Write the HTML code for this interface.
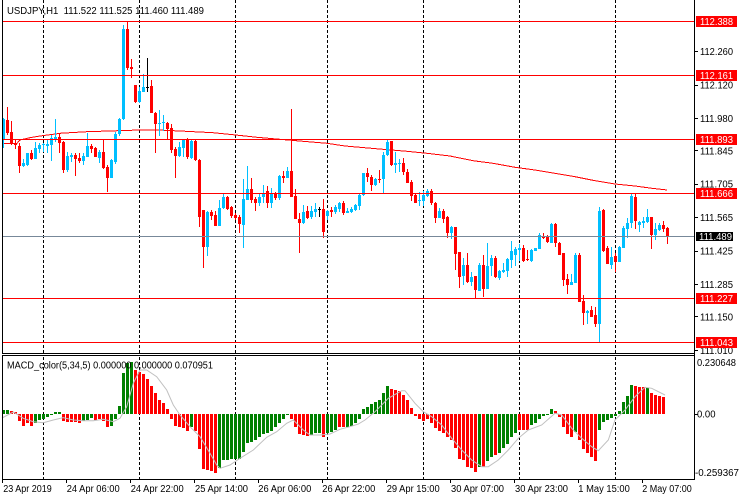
<!DOCTYPE html>
<html><head><meta charset="utf-8"><style>
html,body{margin:0;padding:0;background:#fff;width:740px;height:500px;overflow:hidden}
svg{display:block}
text{font-family:"Liberation Sans",sans-serif;font-size:10px;fill:#000}
</style></head><body>
<svg width="740" height="500" viewBox="0 0 740 500" xmlns="http://www.w3.org/2000/svg">
<rect x="0" y="0" width="740" height="500" fill="#fff"/>
<!-- grid dashed verticals -->
<g stroke="#000" stroke-width="1" stroke-dasharray="3 2" shape-rendering="crispEdges">
<path d="M43.5 0V353M139.5 0V353M235.5 0V353M327.5 0V353M423.5 0V353M519.5 0V353M615.5 0V353"/>
<path d="M43.5 357V479M139.5 357V479M235.5 357V479M327.5 357V479M423.5 357V479M519.5 357V479M615.5 357V479"/>
</g>
<!-- moving average -->
<polyline fill="none" stroke="#f00" stroke-width="1" shape-rendering="crispEdges" points="2,143.5 17,143.3 20,140 30,137.7 40,136 53,134.3 60,133.3 87,131.7 140,130 157,130 180,131 213,132.7 233,134.7 257,137.3 280,139.3 303,141.3 327,143.3 345,146 360,147.3 383,149.3 407,151.3 427,153.3 450,156 473,160.7 493,163.3 515,167.3 535,170 555,173.3 575,176.7 595,180.7 615,184 635,186 652,188.3 667,190"/>
<!-- blue wicks -->
<path fill="none" stroke="#00bfff" stroke-width="1" shape-rendering="crispEdges" d="M3.5 118V148M23.5 159V167M27.5 153V166M35.5 142V159M39.5 143V153M43.5 143V152M47.5 140V153M51.5 135V161M55.5 119V142M67.5 152V172M71.5 153V162M83.5 153V165M87.5 133V157M99.5 150V163M111.5 159V178M115.5 132V164M119.5 118V136M123.5 25V120M139.5 87V103M143.5 74V92M159.5 110V136M163.5 115V131M179.5 142V157M183.5 139V157M191.5 139V159M207.5 211V256M219.5 200V226M223.5 193V209M243.5 179V248M247.5 166V200M259.5 193V206M263.5 185V203M271.5 188V208M279.5 175V200M287.5 167V178M303.5 205V224M311.5 206V219M315.5 203V217M327.5 210V220M335.5 205V214M339.5 202V212M347.5 208V213M351.5 207V213M355.5 204V211M359.5 194V210M363.5 173V196M375.5 178V186M383.5 152V194M387.5 139V156M395.5 152V173M399.5 159V172M419.5 192V206M423.5 191V206M427.5 189V197M439.5 208V218M451.5 226V239M463.5 258V285M471.5 272V286M479.5 263V291M487.5 243V289M491.5 255V276M499.5 270V280M503.5 263V273M507.5 258V277M511.5 241V268M515.5 247V266M519.5 244V261M531.5 249V262M535.5 248V251M539.5 233V249M551.5 223V243M571.5 274V285M575.5 253V283M587.5 310V324M599.5 207V343M611.5 247V269M619.5 246V262M623.5 226V248M627.5 218V238M631.5 194V228M639.5 221V232M643.5 217V228M647.5 209V223M655.5 223V240M659.5 223V231"/>
<!-- blue bodies -->
<path fill="#00bfff" shape-rendering="crispEdges" d="M2 119h3v20h-3zM22 163h3v3h-3zM26 153h3v12h-3zM34 148h3v11h-3zM38 145h3v4h-3zM42 144h3v1h-3zM46 144h3v2h-3zM50 138h3v7h-3zM54 137h3v3h-3zM66 156h3v14h-3zM70 155h3v2h-3zM82 156h3v5h-3zM86 146h3v11h-3zM98 152h3v6h-3zM110 160h3v18h-3zM114 134h3v28h-3zM118 119h3v15h-3zM122 29h3v90h-3zM138 91h3v11h-3zM142 87h3v5h-3zM158 123h3v1h-3zM162 122h3v1h-3zM178 147h3v9h-3zM182 139h3v9h-3zM190 141h3v17h-3zM206 212h3v35h-3zM218 208h3v18h-3zM222 197h3v11h-3zM242 199h3v26h-3zM246 189h3v11h-3zM258 197h3v6h-3zM262 193h3v4h-3zM270 193h3v10h-3zM278 176h3v22h-3zM286 171h3v7h-3zM302 212h3v11h-3zM310 211h3v6h-3zM314 209h3v3h-3zM326 211h3v5h-3zM334 207h3v5h-3zM338 203h3v6h-3zM346 211h3v2h-3zM350 209h3v3h-3zM354 205h3v5h-3zM358 195h3v11h-3zM362 173h3v22h-3zM374 179h3v6h-3zM382 155h3v24h-3zM386 142h3v13h-3zM394 163h3v2h-3zM398 163h3v1h-3zM418 200h3v1h-3zM422 195h3v6h-3zM426 191h3v5h-3zM438 211h3v7h-3zM450 227h3v6h-3zM462 265h3v11h-3zM470 277h3v5h-3zM478 265h3v26h-3zM486 266h3v23h-3zM490 258h3v8h-3zM498 271h3v7h-3zM502 270h3v2h-3zM506 259h3v12h-3zM510 251h3v9h-3zM514 249h3v6h-3zM518 248h3v2h-3zM530 250h3v11h-3zM534 248h3v3h-3zM538 235h3v14h-3zM550 224h3v19h-3zM570 282h3v3h-3zM574 255h3v28h-3zM586 311h3v2h-3zM598 211h3v113h-3zM610 257h3v8h-3zM618 247h3v15h-3zM622 228h3v20h-3zM626 223h3v6h-3zM630 196h3v27h-3zM638 222h3v3h-3zM642 221h3v2h-3zM646 217h3v5h-3zM654 229h3v6h-3zM658 225h3v5h-3z"/>
<!-- red wicks -->
<path fill="none" stroke="#f00" stroke-width="1" shape-rendering="crispEdges" d="M7.5 107V135M11.5 121V145M15.5 139V149M19.5 143V173M31.5 150V160M59.5 133V153M63.5 141V173M75.5 153V176M79.5 153V163M91.5 144V153M95.5 147V157M103.5 139V169M107.5 165V192M127.5 21V70M131.5 59V78M135.5 85V103M151.5 80V113M155.5 112V153M167.5 122V139M171.5 124V153M175.5 147V178M187.5 138V159M195.5 139V161M199.5 159V227M203.5 210V268M211.5 210V220M215.5 211V226M227.5 196V210M231.5 206V218M235.5 213V220M239.5 215V233M251.5 178V203M255.5 197V211M267.5 186V208M275.5 192V200M283.5 171V183M291.5 109V197M295.5 189V219M299.5 213V253M307.5 206V219M323.5 199V238M331.5 207V217M343.5 201V215M367.5 168V182M371.5 175V191M379.5 170V183M391.5 141V166M403.5 158V175M407.5 169V183M411.5 180V201M415.5 194V203M431.5 189V205M435.5 202V223M443.5 209V223M447.5 216V238M455.5 227V270M459.5 252V288M467.5 253V283M475.5 276V298M483.5 255V297M495.5 256V278M523.5 245V262M527.5 250V261M543.5 233V239M547.5 235V243M555.5 223V247M559.5 242V255M563.5 253V286M567.5 274V294M579.5 253V302M583.5 295V325M591.5 306V317M595.5 307V327M603.5 209V252M607.5 246V264M615.5 253V272M635.5 194V229M651.5 217V249M663.5 221V232M667.5 227V244"/>
<!-- red bodies -->
<path fill="#f00" shape-rendering="crispEdges" d="M6 120h3v13h-3zM10 132h3v11h-3zM14 143h3v2h-3zM18 146h3v20h-3zM30 153h3v6h-3zM58 137h3v6h-3zM62 142h3v28h-3zM74 155h3v4h-3zM78 158h3v3h-3zM90 146h3v3h-3zM94 148h3v9h-3zM102 152h3v16h-3zM106 167h3v11h-3zM126 29h3v39h-3zM130 67h3v2h-3zM134 85h3v17h-3zM150 86h3v27h-3zM154 113h3v11h-3zM166 123h3v6h-3zM170 128h3v22h-3zM174 149h3v7h-3zM186 139h3v18h-3zM194 141h3v19h-3zM198 160h3v57h-3zM202 210h3v37h-3zM210 212h3v4h-3zM214 215h3v11h-3zM226 197h3v12h-3zM230 207h3v9h-3zM234 215h3v3h-3zM238 217h3v7h-3zM250 189h3v11h-3zM254 199h3v4h-3zM266 191h3v12h-3zM274 193h3v5h-3zM282 176h3v2h-3zM290 171h3v26h-3zM294 196h3v23h-3zM298 219h3v4h-3zM306 211h3v7h-3zM322 209h3v23h-3zM330 210h3v2h-3zM342 203h3v10h-3zM366 173h3v4h-3zM370 177h3v8h-3zM378 179h3v1h-3zM390 141h3v24h-3zM402 163h3v9h-3zM406 172h3v11h-3zM410 182h3v14h-3zM414 195h3v8h-3zM430 191h3v12h-3zM434 203h3v15h-3zM442 211h3v8h-3zM446 217h3v16h-3zM454 227h3v27h-3zM458 252h3v25h-3zM466 265h3v17h-3zM474 276h3v14h-3zM482 265h3v24h-3zM494 258h3v19h-3zM522 248h3v13h-3zM526 259h3v1h-3zM542 236h3v2h-3zM546 237h3v5h-3zM554 224h3v19h-3zM558 243h3v12h-3zM562 253h3v27h-3zM566 279h3v6h-3zM578 255h3v47h-3zM582 301h3v12h-3zM590 310h3v7h-3zM594 315h3v9h-3zM602 210h3v41h-3zM606 248h3v16h-3zM614 256h3v6h-3zM634 197h3v24h-3zM650 217h3v18h-3zM662 225h3v4h-3zM666 228h3v8h-3z"/>
<!-- doji -->
<path fill="none" stroke="#000" stroke-width="1" shape-rendering="crispEdges" d="M147.5 58V92M146 87.5h3M319.5 207V217M318 209.5h3"/>
<!-- horizontal levels -->
<path fill="none" stroke="#f00" stroke-width="1" shape-rendering="crispEdges" d="M2 21.5H695M2 75.5H695M2 139.5H695M2 193.5H695M2 298.5H695M2 342.5H695"/>
<path fill="none" stroke="#778899" stroke-width="1" shape-rendering="crispEdges" d="M2 236.5H695"/>
<!-- MACD histogram -->
<path fill="#008000" shape-rendering="crispEdges" d="M2 410h3v4h-3zM6 410h3v4h-3zM54 412h3v2h-3zM58 412h3v2h-3zM118 406h3v8h-3zM122 373h3v41h-3zM126 363h3v51h-3zM130 362h3v52h-3zM362 409h3v5h-3zM366 407h3v7h-3zM370 404h3v10h-3zM374 402h3v12h-3zM378 400h3v14h-3zM382 393h3v21h-3zM386 386h3v28h-3zM550 409h3v5h-3zM618 411h3v3h-3zM622 402h3v12h-3zM626 396h3v18h-3zM630 385h3v29h-3zM646 388h3v26h-3z
M34 414h3v9h-3zM38 414h3v6h-3zM42 414h3v5h-3zM46 414h3v3h-3zM50 414h3v1h-3zM82 414h3v7h-3zM86 414h3v6h-3zM90 414h3v4h-3zM110 414h3v12h-3zM114 414h3v5h-3zM190 414h3v13h-3zM218 414h3v54h-3zM222 414h3v46h-3zM226 414h3v46h-3zM230 414h3v45h-3zM234 414h3v45h-3zM238 414h3v45h-3zM242 414h3v38h-3zM246 414h3v29h-3zM250 414h3v28h-3zM254 414h3v26h-3zM258 414h3v23h-3zM262 414h3v20h-3zM266 414h3v19h-3zM270 414h3v17h-3zM274 414h3v13h-3zM278 414h3v9h-3zM282 414h3v5h-3zM286 414h3v1h-3zM310 414h3v21h-3zM314 414h3v19h-3zM318 414h3v19h-3zM326 414h3v19h-3zM330 414h3v18h-3zM334 414h3v16h-3zM346 414h3v13h-3zM350 414h3v12h-3zM354 414h3v9h-3zM358 414h3v5h-3zM478 414h3v53h-3zM486 414h3v47h-3zM490 414h3v43h-3zM498 414h3v39h-3zM502 414h3v34h-3zM506 414h3v30h-3zM510 414h3v23h-3zM514 414h3v19h-3zM530 414h3v11h-3zM534 414h3v9h-3zM538 414h3v5h-3zM542 414h3v2h-3zM546 414h3v1h-3zM574 414h3v18h-3zM598 414h3v16h-3zM602 414h3v8h-3zM606 414h3v6h-3zM610 414h3v4h-3zM614 414h3v2h-3z"/>
<path fill="#f00" shape-rendering="crispEdges" d="M10 411h3v3h-3zM14 412h3v2h-3zM134 370h3v44h-3zM138 372h3v42h-3zM142 374h3v40h-3zM146 379h3v35h-3zM150 386h3v28h-3zM154 393h3v21h-3zM158 400h3v14h-3zM162 403h3v11h-3zM166 409h3v5h-3zM390 389h3v25h-3zM394 390h3v24h-3zM398 391h3v23h-3zM402 395h3v19h-3zM406 400h3v14h-3zM410 408h3v6h-3zM554 411h3v3h-3zM634 386h3v28h-3zM638 387h3v27h-3zM642 387h3v27h-3zM650 393h3v21h-3zM654 395h3v19h-3zM658 396h3v18h-3zM662 397h3v17h-3z
M18 414h3v7h-3zM22 414h3v12h-3zM26 414h3v9h-3zM30 414h3v12h-3zM62 414h3v7h-3zM66 414h3v8h-3zM70 414h3v8h-3zM74 414h3v8h-3zM78 414h3v9h-3zM94 414h3v6h-3zM98 414h3v5h-3zM102 414h3v7h-3zM106 414h3v13h-3zM170 414h3v5h-3zM174 414h3v12h-3zM178 414h3v13h-3zM182 414h3v14h-3zM186 414h3v17h-3zM194 414h3v17h-3zM198 414h3v35h-3zM202 414h3v55h-3zM206 414h3v56h-3zM210 414h3v57h-3zM214 414h3v59h-3zM290 414h3v5h-3zM294 414h3v13h-3zM298 414h3v20h-3zM302 414h3v21h-3zM306 414h3v22h-3zM322 414h3v23h-3zM338 414h3v13h-3zM342 414h3v13h-3zM414 414h3v2h-3zM418 414h3v5h-3zM422 414h3v7h-3zM426 414h3v5h-3zM430 414h3v9h-3zM434 414h3v14h-3zM438 414h3v17h-3zM442 414h3v19h-3zM446 414h3v23h-3zM450 414h3v26h-3zM454 414h3v34h-3zM458 414h3v45h-3zM462 414h3v46h-3zM466 414h3v53h-3zM470 414h3v54h-3zM474 414h3v58h-3zM482 414h3v53h-3zM494 414h3v41h-3zM518 414h3v16h-3zM522 414h3v16h-3zM526 414h3v16h-3zM558 414h3v3h-3zM562 414h3v13h-3zM566 414h3v20h-3zM570 414h3v23h-3zM578 414h3v26h-3zM582 414h3v35h-3zM586 414h3v39h-3zM590 414h3v43h-3zM594 414h3v47h-3z"/>
<!-- MACD signal -->
<polyline fill="none" stroke="#c0c0c0" stroke-width="1" points="2,418 13.3,412 23.3,418.3 33.3,421.7 43.3,422.7 53.3,420 63.3,417.7 73.3,420 83.3,420.7 93.3,420.7 103.3,419.3 113.3,421.7 120,418.3 126.7,406.7 133.3,383.3 140,370 146.7,370 156.7,376.7 166.7,390 173.3,405 180,415 190,426.7 200,436.7 210,453.3 216.7,465 220,468.3 230,465 240,458.3 253.3,450 266.7,437.3 276.7,431.7 286.7,423.3 293.3,420 303.3,430 310,435 320,435 330,434 340,429.3 350,426.7 358.3,424 365,420 375,411.7 388.3,398.3 401.7,390.7 405,390.7 415,403.3 423.3,411.7 431.7,416.7 441.7,425 451.7,438.3 461.7,450 471.7,460 481.7,466.7 488.3,466.7 498.3,460 508.3,450 518.3,438.3 528.3,430 541.7,425 555,413.3 561.7,415 571.7,428.3 581.7,438.3 591.7,446.7 598.3,450.7 608.3,440 615,420 625,410 635,396.7 645,387.3 651.7,388.3 665,395"/>
<!-- frames -->
<path fill="none" stroke="#000" stroke-width="1" shape-rendering="crispEdges" d="M2.5 0V353M2.5 356V479M2 353.5H695M2 355.5H695M2 479.5H695M694.5 0V480"/>
<!-- price axis ticks -->
<path fill="none" stroke="#000" stroke-width="1" shape-rendering="crispEdges" d="M695 51.5h3M695 85.5h3M695 118.5h3M695 150.5h3M695 184.5h3M695 217.5h3M695 251.5h3M695 284.5h3M695 316.5h3M695 350.5h3M695 414.5h3M2.5 480v3M66.5 480v3M130.5 480v3M194.5 480v3M258.5 480v3M322.5 480v3M386.5 480v3M450.5 480v3M514.5 480v3M578.5 480v3M642.5 480v3"/>
<!-- price labels -->
<text x="700" y="55" textLength="33" lengthAdjust="spacingAndGlyphs">112.260</text>
<text x="700" y="88.6" textLength="33" lengthAdjust="spacingAndGlyphs">112.120</text>
<text x="700" y="122" textLength="33" lengthAdjust="spacingAndGlyphs">111.980</text>
<text x="700" y="154.3" textLength="33" lengthAdjust="spacingAndGlyphs">111.845</text>
<text x="700" y="187.7" textLength="33" lengthAdjust="spacingAndGlyphs">111.705</text>
<text x="700" y="221.2" textLength="33" lengthAdjust="spacingAndGlyphs">111.565</text>
<text x="700" y="254.7" textLength="33" lengthAdjust="spacingAndGlyphs">111.425</text>
<text x="700" y="288.1" textLength="33" lengthAdjust="spacingAndGlyphs">111.285</text>
<text x="700" y="320.4" textLength="33" lengthAdjust="spacingAndGlyphs">111.150</text>
<text x="700" y="353.8" textLength="33" lengthAdjust="spacingAndGlyphs">111.010</text>
<!-- level boxes -->
<g shape-rendering="crispEdges">
<rect x="696" y="16" width="41" height="11" fill="#f00"/>
<rect x="696" y="70" width="41" height="11" fill="#f00"/>
<rect x="696" y="134" width="41" height="11" fill="#f00"/>
<rect x="696" y="188" width="41" height="11" fill="#f00"/>
<rect x="696" y="293" width="41" height="11" fill="#f00"/>
<rect x="696" y="337" width="41" height="11" fill="#f00"/>
<rect x="696" y="232" width="37" height="9" fill="#000"/>
</g>
<g style="fill:#fff">
<text x="700" y="25" textLength="33" lengthAdjust="spacingAndGlyphs" style="fill:#fff">112.388</text>
<text x="700" y="79" textLength="33" lengthAdjust="spacingAndGlyphs" style="fill:#fff">112.161</text>
<text x="700" y="143" textLength="33" lengthAdjust="spacingAndGlyphs" style="fill:#fff">111.893</text>
<text x="700" y="197" textLength="33" lengthAdjust="spacingAndGlyphs" style="fill:#fff">111.666</text>
<text x="700" y="302" textLength="33" lengthAdjust="spacingAndGlyphs" style="fill:#fff">111.227</text>
<text x="700" y="346" textLength="33" lengthAdjust="spacingAndGlyphs" style="fill:#fff">111.043</text>
<text x="699" y="240" textLength="33" lengthAdjust="spacingAndGlyphs" style="fill:#fff">111.489</text>
</g>
<!-- MACD axis labels -->
<text x="697" y="366.2" textLength="39" lengthAdjust="spacingAndGlyphs">0.230648</text>
<text x="697" y="417.5" textLength="18.5" lengthAdjust="spacingAndGlyphs">0.00</text>
<text x="695" y="475.8" textLength="44" lengthAdjust="spacingAndGlyphs">-0.259367</text>
<!-- titles -->
<text x="7" y="14" textLength="197" lengthAdjust="spacingAndGlyphs" xml:space="preserve">USDJPY,H1  111.522 111.525 111.460 111.489</text>
<text x="7" y="368.5" textLength="206" lengthAdjust="spacingAndGlyphs">MACD_color(5,34,5) 0.000000 0.000000 0.070951</text>
<!-- time labels -->
<text x="3.3" y="492" textLength="48.5" lengthAdjust="spacingAndGlyphs">23 Apr 2019</text>
<text x="66.7" y="492" textLength="53" lengthAdjust="spacingAndGlyphs">24 Apr 06:00</text>
<text x="130.7" y="492" textLength="53" lengthAdjust="spacingAndGlyphs">24 Apr 22:00</text>
<text x="195" y="492" textLength="53" lengthAdjust="spacingAndGlyphs">25 Apr 14:00</text>
<text x="258.3" y="492" textLength="53" lengthAdjust="spacingAndGlyphs">26 Apr 06:00</text>
<text x="322.3" y="492" textLength="53" lengthAdjust="spacingAndGlyphs">26 Apr 22:00</text>
<text x="386.7" y="492" textLength="53" lengthAdjust="spacingAndGlyphs">29 Apr 15:00</text>
<text x="451" y="492" textLength="53" lengthAdjust="spacingAndGlyphs">30 Apr 07:00</text>
<text x="515" y="492" textLength="53" lengthAdjust="spacingAndGlyphs">30 Apr 23:00</text>
<text x="578.3" y="492" textLength="51.5" lengthAdjust="spacingAndGlyphs">1 May 15:00</text>
<text x="642.3" y="492" textLength="49.5" lengthAdjust="spacingAndGlyphs">2 May 07:00</text>
</svg>
</body></html>
